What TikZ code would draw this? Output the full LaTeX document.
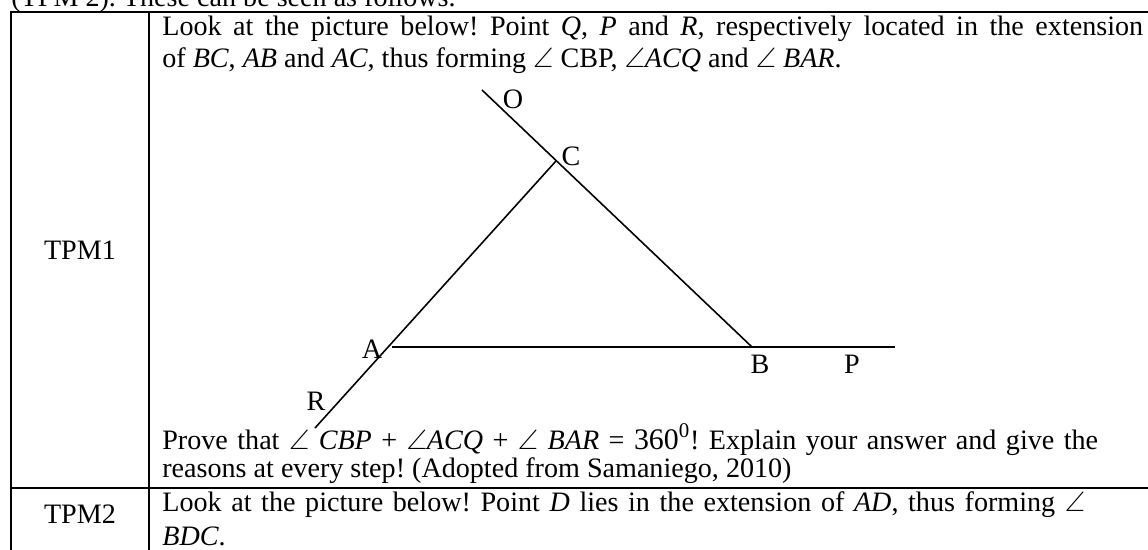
\documentclass[tikz,border=0pt]{standalone}
\usepackage{amssymb}
\usepackage{fontspec}
\setmainfont{Liberation Serif}
\usepackage{tikz}
\frenchspacing
\tikzstyle{txt} = [inner sep=0pt, anchor=base west, font=\fontsize{16}{18}\selectfont]
\tikzstyle{cell} = [inner sep=0pt, font=\fontsize{16}{18}\selectfont]
\tikzstyle{lbl} = [inner sep=0pt, font=\fontsize{16}{18}\selectfont]
\tikzstyle{rule} = [draw, line width=1pt]
\tikzstyle{edge} = [draw, line width=0.9pt]
\newcommand{\ang}{\ensuremath{\angle}}

\begin{document}
\begin{tikzpicture}[x=0.02cm, y=-0.02cm]
\useasboundingbox (0,0) rectangle (1148,550);
\clip (0,0) rectangle (1148,550);
% text above the table
\node[txt] (intro) at (11,7) {(TPM 2). These can be seen as follows.};
% table rules
\path[rule] (11,570) -- (11,12) -- (1170,12);
\path[rule] (149,12) -- (149,570);
\path[rule] (11,488) -- (1170,488);
% left column
\node[cell] (tpm1) at (80,250) {TPM1};
\node[cell] (tpm2) at (80,514) {TPM2};
% first row text
\node[txt] (q1) at (162,36) {\makebox[19.62cm][s]{Look at the picture below! Point \textit{Q}, \textit{P} and \textit{R}, respectively located in the extension}};
\node[txt] (q2) at (162,68) {of \textit{BC}, \textit{AB} and \textit{AC}, thus forming \ang{} CBP, \ang\textit{ACQ} and \ang{} \textit{BAR}.};
\node[txt] (q3) at (162,449) {\makebox[18.72cm][s]{Prove that \ang{} \textit{CBP} + \ang\textit{ACQ} + \ang{} \textit{BAR} = {\fontsize{17}{18}\selectfont 360\textsuperscript{0}}! Explain your answer and give the}};
\node[txt] (q4) at (162,477) {reasons at every step! (Adopted from Samaniego, 2010)};
% second row text
\node[txt] (r1) at (162,511) {\makebox[18.46cm][s]{Look at the picture below! Point \textit{D} lies in the extension of \textit{AD}, thus forming \ang}};
\node[txt] (r2) at (162,545) {\textit{BDC}.};
% figure
\coordinate (Qend) at (482,90);
\coordinate (C) at (556,161);
\coordinate (B) at (752,347);
\coordinate (Rend) at (315,428);
\coordinate (Astart) at (392,347);
\coordinate (Pend) at (895,347);
\path[edge] (Qend) -- (B);
\path[edge] (C) -- (Rend);
\path[edge] (Astart) -- (Pend);
\node[lbl] (labO) at (513,99) {O};
\node[lbl] (labC) at (571,156) {C};
\node[lbl] (labA) at (372,349) {A};
\node[lbl] (labB) at (760,364) {B};
\node[lbl] (labP) at (852,364) {P};
\node[lbl] (labR) at (316,401) {R};
\end{tikzpicture}
\end{document}
